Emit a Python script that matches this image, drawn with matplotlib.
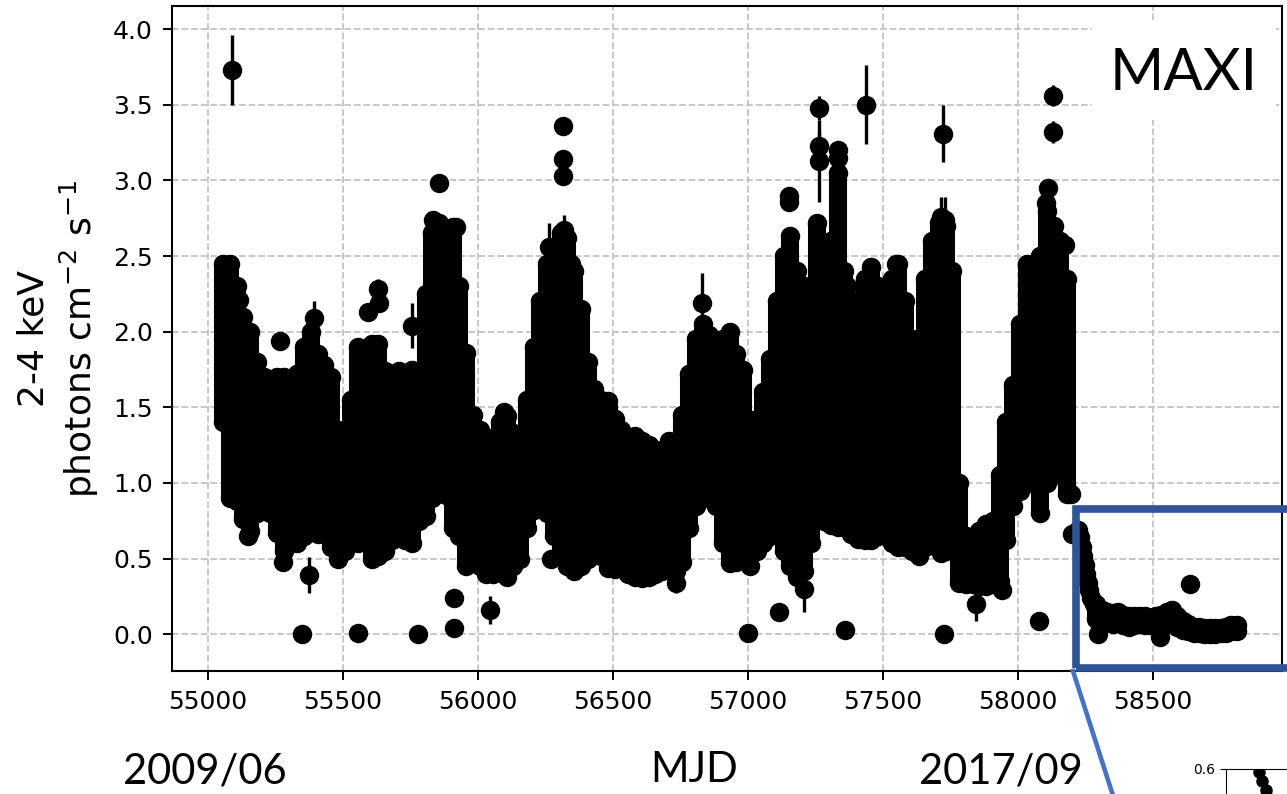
import numpy as np
import matplotlib.pyplot as plt
from matplotlib.patches import Rectangle
from matplotlib.lines import Line2D

# MAXI 2-4 keV light curve, 25-day bins: spread (lowest / highest daily flux) in each bin
bin_mjd = [55057, 55082, 55107, 55132, 55157, 55182, 55207, 55232, 55257, 55282,
           55307, 55332, 55357, 55382, 55407, 55432, 55457, 55482, 55507, 55532,
           55557, 55582, 55607, 55632, 55657, 55682, 55707, 55732, 55757, 55782,
           55807, 55832, 55857, 55882, 55907, 55932, 55957, 55982, 56007, 56032,
           56057, 56082, 56107, 56132, 56157, 56182, 56207, 56232, 56257, 56282,
           56307, 56332, 56357, 56382, 56407, 56432, 56457, 56482, 56507, 56532,
           56557, 56582, 56607, 56632, 56657, 56682, 56707, 56732, 56757, 56782,
           56807, 56832, 56857, 56882, 56907, 56932, 56957, 56982, 57007, 57032,
           57057, 57082, 57107, 57132, 57157, 57182, 57207, 57232, 57257, 57282,
           57307, 57332, 57357, 57382, 57407, 57432, 57457, 57482, 57507, 57532,
           57557, 57582, 57607, 57632, 57657, 57682, 57707, 57732, 57757, 57782,
           57807, 57832, 57857, 57882, 57907, 57932, 57957, 57982, 58007, 58032,
           58057, 58082, 58107, 58132, 58157, 58182]
flux_lo = [1.40, 0.90, 0.88, 0.76, 0.68, 0.80, 0.82, 0.80, 0.67, 0.55,
           0.60, 0.60, 0.65, 0.80, 0.66, 0.66, 0.58, 0.50, 0.55, 0.62,
           0.60, 0.62, 0.50, 0.52, 0.55, 0.62, 0.67, 0.62, 0.60, 0.75,
           0.78, 0.90, 0.95, 0.92, 0.70, 0.65, 0.45, 0.50, 0.45, 0.40,
           0.40, 0.42, 0.38, 0.45, 0.50, 0.70, 0.82, 0.85, 0.80, 0.65,
           0.55, 0.45, 0.42, 0.45, 0.50, 0.55, 0.52, 0.44, 0.43, 0.45,
           0.40, 0.38, 0.37, 0.38, 0.40, 0.42, 0.45, 0.42, 0.48, 0.70,
           0.85, 0.93, 0.90, 0.85, 0.60, 0.47, 0.48, 0.50, 0.45, 0.55,
           0.60, 0.65, 0.68, 0.55, 0.45, 0.38, 0.42, 0.60, 0.80, 0.75,
           0.72, 0.71, 0.71, 0.66, 0.63, 0.62, 0.62, 0.65, 0.66, 0.60,
           0.58, 0.58, 0.55, 0.52, 0.58, 0.60, 0.62, 0.55, 0.58, 0.34,
           0.33, 0.33, 0.32, 0.32, 0.33, 0.35, 0.62, 0.85, 0.95, 1.00,
           1.00, 0.80, 1.00, 1.10, 1.05, 0.93]
flux_hi = [2.45, 2.45, 2.30, 2.10, 2.00, 1.80, 1.70, 1.68, 1.70, 1.70,
           1.68, 1.72, 1.90, 2.00, 1.85, 1.78, 1.70, 1.35, 1.22, 1.55,
           1.90, 1.85, 1.92, 1.92, 1.74, 1.72, 1.74, 1.65, 1.75, 1.70,
           2.25, 2.65, 2.72, 2.62, 2.69, 2.30, 1.86, 1.45, 1.35, 1.26,
           1.30, 1.40, 1.44, 1.33, 1.28, 1.55, 1.90, 2.20, 2.45, 2.45,
           2.65, 2.62, 2.40, 2.15, 1.80, 1.62, 1.55, 1.50, 1.42, 1.35,
           1.28, 1.31, 1.28, 1.25, 1.22, 1.22, 1.28, 1.25, 1.45, 1.72,
           1.95, 2.05, 1.98, 1.92, 1.95, 2.00, 1.85, 1.75, 1.40, 1.42,
           1.60, 1.82, 2.20, 2.50, 2.63, 2.40, 2.30, 2.30, 2.72, 2.55,
           2.60, 3.05, 2.40, 2.10, 2.20, 2.35, 2.43, 2.30, 2.20, 2.35,
           2.45, 2.20, 1.95, 1.92, 2.35, 2.60, 2.72, 2.70, 2.40, 1.00,
           0.65, 0.62, 0.68, 0.73, 0.75, 1.05, 1.40, 1.65, 2.05, 2.45,
           2.45, 2.50, 2.80, 2.70, 2.60, 2.35]

# single daily points standing out of the band
pt_mjd = [55149, 55268, 55280, 55348, 55375, 55555, 55593, 55636, 55777, 55835,
          55858, 55888, 55912, 55912, 55919, 56097, 56272, 56314, 56314, 56314,
          56345, 56483, 57000, 57116, 57151, 57151, 57334, 57334, 57360, 57366,
          57548, 57716, 57725, 57941, 58079, 58105, 58110, 58172, 58195]
pt_flux = [0.65, 1.94, 0.48, 0.00, 0.91, 0.01, 2.13, 2.19, 0.00, 2.74,
           2.98, 1.22, 0.24, 0.04, 2.69, 1.47, 0.50, 3.36, 3.14, 3.03,
           2.45, 1.54, 0.01, 0.15, 2.90, 2.86, 3.20, 3.15, 0.03, 2.30,
           2.45, 0.54, 0.00, 0.29, 0.09, 2.85, 2.95, 2.57, 0.93]

# daily points whose error bars show
eb_mjd = [55092, 55115, 55375, 55394, 55631, 55758, 56046, 56264, 56318, 56735,
          56829, 57207, 57263, 57263, 57263, 57438, 57716, 57722, 57730, 57844,
          58129, 58129]
eb_flux = [3.73, 2.21, 0.39, 2.09, 2.28, 2.04, 0.16, 2.56, 2.67, 0.34,
           2.19, 0.30, 3.48, 3.23, 3.13, 3.50, 2.76, 3.31, 2.74, 0.20,
           3.56, 3.32]
eb_err = [0.23, 0.09, 0.12, 0.11, 0.07, 0.15, 0.09, 0.16, 0.10, 0.07,
          0.20, 0.15, 0.08, 0.10, 0.27, 0.26, 0.13, 0.19, 0.15, 0.11,
          0.07, 0.07]

# 2018 decay and the faint tail after it
decay_mjd = [58201, 58222, 58229, 58235, 58240, 58246, 58252, 58258, 58264, 58271,
             58280, 58296, 58525, 58636]
decay_flux = [0.66, 0.69, 0.64, 0.58, 0.52, 0.46, 0.40, 0.34, 0.29, 0.24,
              0.20, 0.00, -0.02, 0.33]
tail_mjd = [58290, 58310, 58330, 58350, 58370, 58390, 58410, 58430, 58450, 58470,
            58490, 58510, 58530, 58550, 58570, 58590, 58610, 58630, 58650, 58670,
            58690, 58710, 58730, 58750, 58770, 58790, 58810]
tail_lo = [0.10, 0.08, 0.08, 0.07, 0.08, 0.06, 0.05, 0.06, 0.07, 0.06,
           0.06, 0.06, 0.04, 0.08, 0.08, 0.05, 0.03, 0.02, 0.01, 0.01,
           0.00, 0.00, 0.00, 0.01, 0.01, 0.02, 0.02]
tail_hi = [0.20, 0.16, 0.15, 0.14, 0.15, 0.13, 0.12, 0.12, 0.12, 0.12,
           0.11, 0.12, 0.13, 0.15, 0.16, 0.12, 0.09, 0.07, 0.05, 0.05,
           0.04, 0.04, 0.04, 0.04, 0.05, 0.06, 0.06]

W, H = 1287, 794
fig = plt.figure(figsize=(W / 100, H / 100), dpi=100)
fig.patch.set_facecolor('white')


def px(x, y):
    # figure fraction from pixel position (origin top-left)
    return x / W, 1 - y / H


def spread(axis, t, lo, hi, size):
    # a bin's daily points merge into one column from lo to hi with round ends
    lc = axis.vlines(t, lo, hi, color='black', lw=size, zorder=2)
    lc.set_capstyle('round')
    axis.plot(t, lo, 'o', color='black', ms=size, zorder=2)
    axis.plot(t, hi, 'o', color='black', ms=size, zorder=2)


ax = fig.add_axes([171.7 / W, 1 - 671 / H, (1282 - 171.7) / W, (671 - 5.7) / H])

ms = 13
spread(ax, bin_mjd, flux_lo, flux_hi, ms)
spread(ax, tail_mjd, tail_lo, tail_hi, ms)
ax.plot(pt_mjd, pt_flux, 'o', color='black', ms=ms, zorder=2)
ax.plot(decay_mjd, decay_flux, 'o', color='black', ms=ms, zorder=2)
ax.errorbar(eb_mjd, eb_flux, yerr=eb_err, fmt='o', color='black', ms=ms,
            elinewidth=2.4, capsize=0, zorder=2)

ax.set_xlim(54867, 58977)
ax.set_ylim(-0.243, 4.155)
ax.set_xticks(np.arange(55000, 58501, 500))
ax.set_yticks(np.arange(0, 4.01, 0.5))
ax.yaxis.set_major_formatter(plt.FormatStrFormatter('%.1f'))
ax.tick_params(labelsize=18, length=6.5, width=1.4, pad=7)
ax.grid(True, ls='--', color='#c3c3c3', lw=1.3)
for s in ax.spines.values():
    s.set_linewidth(1.5)

ax.set_ylabel('2-4 keV\nphotons cm$^{-2}$ s$^{-1}$', fontsize=26, labelpad=9)

# label box in the upper right corner
ax.add_patch(Rectangle((58273, 3.40), 681, 0.66, facecolor='white',
                       edgecolor='none', zorder=3))
ax.text(58613, 3.705, 'MAXI', fontsize=42, family='Lato', ha='center',
        va='center', zorder=4)

# date and axis annotations under the plot
fig.text(*px(205, 783), '2009/06', fontsize=30, family='Lato', ha='center', va='baseline')
fig.text(*px(694, 782), 'MJD', fontsize=30, family='Lato', ha='center', va='baseline')
fig.text(*px(1001, 783), '2017/09', fontsize=30, family='Lato', ha='center', va='baseline')

# zoom box around the decay and its connector to the inset
bx0, by0 = px(1075.5, 668)
fig.add_artist(Rectangle((bx0, by0), (1310 - 1075.5) / W, (668 - 509) / H,
                         transform=fig.transFigure, fill=False,
                         edgecolor='#2F5597', lw=5.5, zorder=5))
lx0, ly0 = px(1073, 671)
lx1, ly1 = px(1117, 808)
fig.add_artist(Line2D([lx0, lx1], [ly0, ly1], transform=fig.transFigure,
                      color='#4472C4', lw=3.3, zorder=5))

# inset with the decay (mostly off the page)
ix0, iy_top = px(1225.7, 769)
axin = fig.add_axes([ix0, iy_top - 200 / H, 600 / W, 200 / H])
axin.plot(decay_mjd, decay_flux, 'o', color='black', ms=8)
axin.set_xlim(58183, 59123)
axin.set_ylim(0.6 - 200 / 150, 0.6)
axin.set_yticks([0.6])
axin.set_xticks([])
axin.tick_params(labelsize=10, length=4, width=0.8)
for s in axin.spines.values():
    s.set_linewidth(0.8)

fig.savefig('out.png', dpi=100)
